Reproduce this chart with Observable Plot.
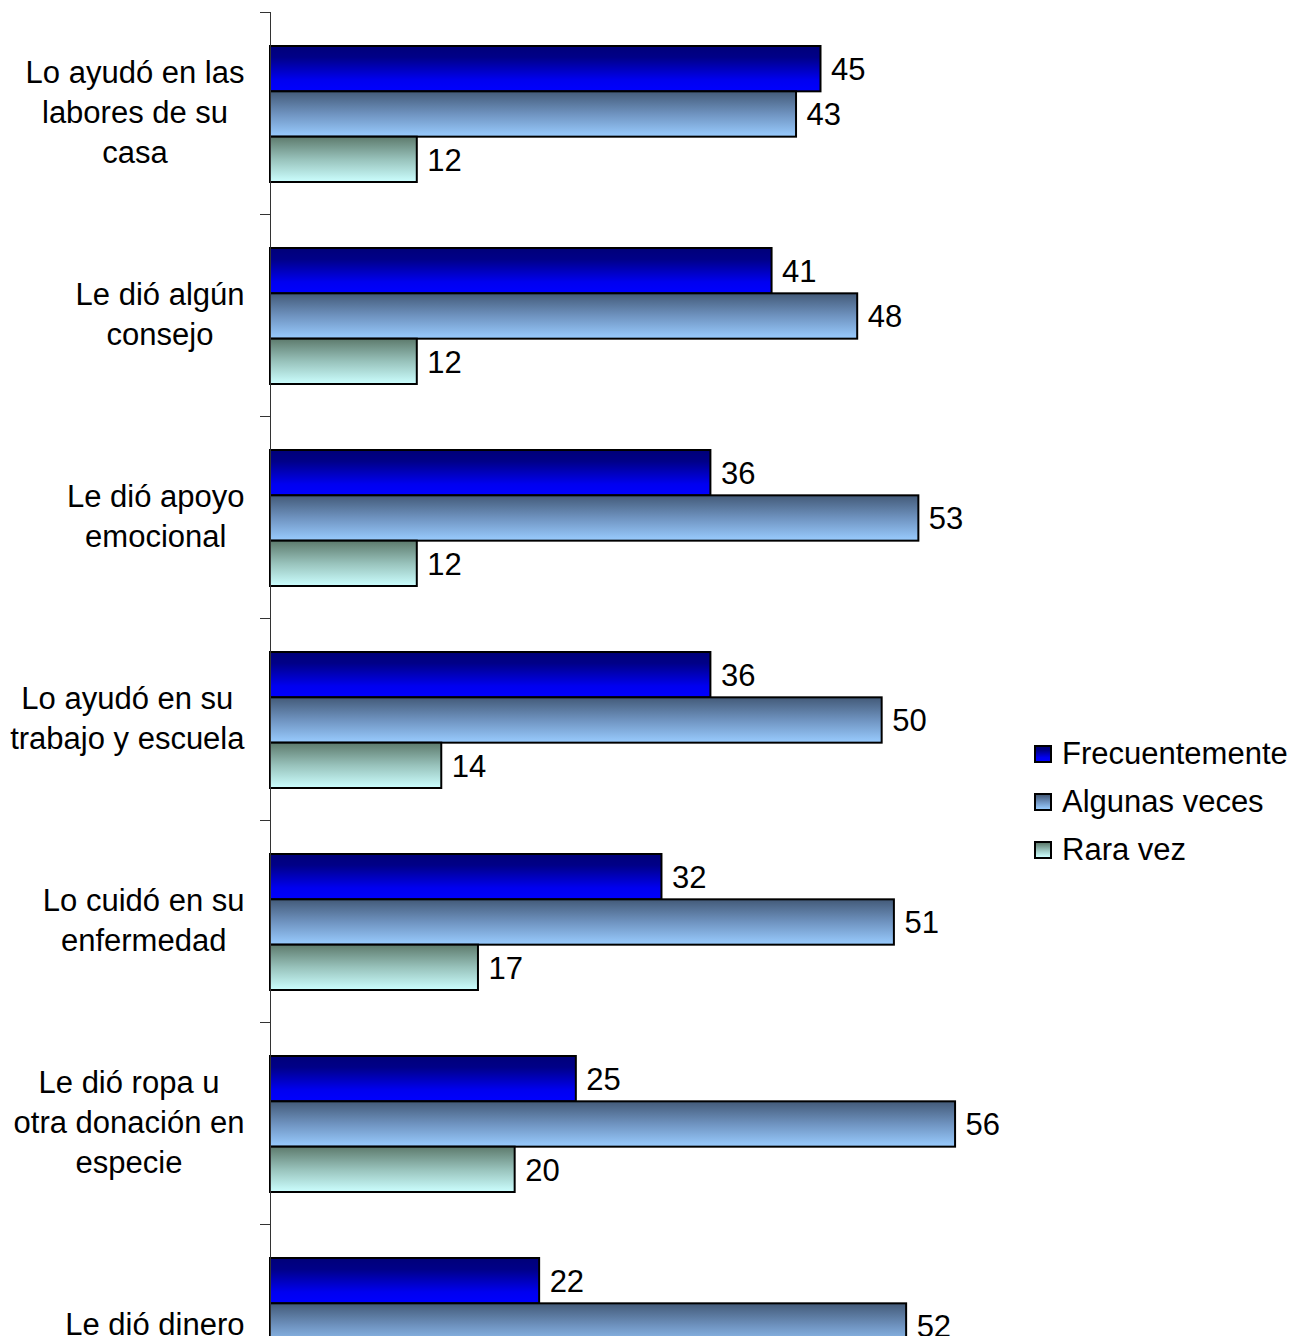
<!DOCTYPE html>
<html>
<head>
<meta charset="utf-8">
<script src="https://cdn.jsdelivr.net/npm/d3@7"></script>
<script src="https://cdn.jsdelivr.net/npm/@observablehq/plot@0.6"></script>
<style>
  html, body { margin: 0; padding: 0; background: #fff; overflow: hidden; }
  #wrap { position: relative; width: 1291px; height: 1336px; overflow: hidden; }
  #legend { position: absolute; left: 1034px; top: 730px; font-family: "Liberation Sans", Arial, sans-serif; font-size: 31px; color: #000; }
  #legend .row { display: flex; align-items: center; height: 48px; }
  #legend .sw { width: 18px; height: 18px; border: 2px solid #000; margin-right: 10px; box-sizing: border-box; }
</style>
</head>
<body>
<div id="wrap"><div id="legend"></div></div>
<script>
const categories = [
  "Lo ayudó en las labores de su casa",
  "Le dió algún consejo",
  "Le dió apoyo emocional",
  "Lo ayudó en su trabajo y escuela",
  "Lo cuidó en su enfermedad",
  "Le dió ropa u otra donación en especie",
  "Le dió dinero"
];
const categoryLabels = [
  "Lo ayudó en las\nlabores de su\ncasa",
  "Le dió algún\nconsejo",
  "Le dió apoyo\nemocional",
  "Lo ayudó en su\ntrabajo y escuela",
  "Lo cuidó en su\nenfermedad",
  "Le dió ropa u\notra donación en\nespecie",
  "Le dió dinero"
];
const seriesNames = ["Frecuentemente", "Algunas veces", "Rara vez"];
const frecuentemente = [45, 41, 36, 36, 32, 25, 22];
const algunasVeces   = [43, 48, 53, 50, 51, 56, 52];
const raraVez        = [12, 12, 12, 14, 17, 20, 26];

const seriesValues = [frecuentemente, algunasVeces, raraVez];
const gradIds = ["gFrec", "gAlg", "gRara"];
const gradStops = [
  [[0, "#000078"], [0.25, "#000088"], [0.75, "#0000f0"], [1, "#0000ff"]],
  [[0, "#435a78"], [0.5, "#6f93c0"], [1, "#99ccff"]],
  [[0, "#5d7a6c"], [0.5, "#98c2bb"], [1, "#ccffff"]]
];

const FONT = "'Liberation Sans', Arial, sans-serif";
const FS = 31;
const step = 202, groupTop = 34, barH = 136 / 3;

const rows = [];
seriesValues.forEach((vals, s) => vals.forEach((v, i) => rows.push({category: categories[i], series: seriesNames[s], value: v, s})));

// measure label widths to right-align centered blocks
const ctx = document.createElement("canvas").getContext("2d");
ctx.font = `${FS}px ${FONT}`;
const blockWidth = categoryLabels.map(l => Math.max(...l.split("\n").map(t => ctx.measureText(t).width)));

const marks = [];
seriesNames.forEach((name, s) => {
  const top = groupTop + barH * s;
  const bottom = step - (groupTop + barH * (s + 1));
  marks.push(Plot.barX(rows.filter(d => d.s === s), {
    x: "value", y: "category", fill: `url(#${gradIds[s]})`, stroke: "#000", strokeWidth: 2,
    insetTop: top, insetBottom: bottom
  }));
  marks.push(Plot.text(rows.filter(d => d.s === s), {
    x: "value", y: "category", text: d => String(d.value), textAnchor: "start",
    dx: 10, dy: top + barH / 2 - step / 2 + 1, fontSize: FS, fill: "#000"
  }));
});
marks.push(Plot.ruleX([0], {stroke: "#333", strokeWidth: 1}));
marks.push(Plot.ruleY(categories, {y: d => d, x1: 0, x2: 0, insetLeft: -10, dy: -step / 2, stroke: "#333", strokeWidth: 1}));
categories.forEach((c, i) => {
  marks.push(Plot.text([c], {
    y: d => d, text: () => categoryLabels[i], frameAnchor: "left",
    dx: -26 - blockWidth[i] / 2, dy: -3, textAnchor: "middle", lineAnchor: "middle",
    lineHeight: 40 / FS, fontSize: FS, fill: "#000"
  }));
});

const chart = Plot.plot({
  width: 1291,
  height: 12 + step * categories.length + 10,
  marginTop: 12, marginBottom: 10, marginLeft: 270, marginRight: 287,
  style: {fontFamily: FONT, fontSize: FS + "px", background: "#fff", overflow: "visible"},
  x: {domain: [0, 60], axis: null},
  y: {domain: categories, padding: 0, axis: null},
  marks
});

const defs = d3.select(chart).insert("defs", ":first-child");
gradIds.forEach((id, s) => {
  const g = defs.append("linearGradient").attr("id", id).attr("x1", 0).attr("y1", 0).attr("x2", 0).attr("y2", 1);
  gradStops[s].forEach(([o, c]) => g.append("stop").attr("offset", o).attr("stop-color", c));
});
const wrap = document.getElementById("wrap");
wrap.insertBefore(chart, wrap.firstChild);

const cssGrad = gradStops.map(st => `linear-gradient(to bottom, ${st.map(([o, c]) => `${c} ${o * 100}%`).join(", ")})`);
const legend = d3.select("#legend");
seriesNames.forEach((n, s) => {
  const r = legend.append("div").attr("class", "row");
  r.append("div").attr("class", "sw").style("background", cssGrad[s]);
  r.append("span").text(n);
});
</script>
</body>
</html>
